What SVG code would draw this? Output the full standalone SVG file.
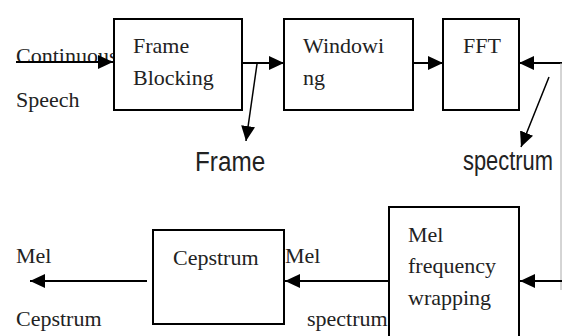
<svg xmlns="http://www.w3.org/2000/svg" width="562" height="336" viewBox="0 0 562 336">
<style>
.box{fill:#fff;stroke:#000;stroke-width:2}
.t{font-family:"Liberation Sans","Liberation Serif","Times New Roman",serif;font-size:22px;fill:#222}
.t{font-family:"Liberation Serif","Times New Roman",serif}
.s{font-family:"Liberation Sans",Arial,sans-serif;font-size:27px;fill:#222}
.ln{stroke:#000;stroke-width:2;fill:none}
.thin{stroke:#000;stroke-width:1.5;fill:none}
</style>
<defs>
<marker id="ah" markerUnits="userSpaceOnUse" markerWidth="16" markerHeight="14" refX="15" refY="7" orient="auto">
<path d="M0,0 L15,7 L0,14 Z" fill="#000"/>
</marker>
</defs>
<rect width="562" height="336" fill="#fff"/>
<g id="labels">
<text class="t" x="16" y="63">Continuous</text>
<text class="t" x="16" y="107">Speech</text>
<text class="s" transform="translate(195,171) scale(0.9,1)">Frame</text>
<text class="s" transform="translate(463,170) scale(0.81,1)">spectrum</text>
<text class="t" x="16" y="263">Mel</text>
<text class="t" x="16" y="326">Cepstrum</text>
<text class="t" x="285" y="263">Mel</text>
<text class="t" x="307" y="326">spectrum</text>
</g>
<g id="connectors">
<line class="ln" x1="16" y1="62" x2="113" y2="62" marker-end="url(#ah)"/>
<line class="ln" x1="242" y1="63" x2="284" y2="63" marker-end="url(#ah)"/>
<line class="thin" x1="257" y1="64" x2="246" y2="141" marker-end="url(#ah)"/>
<line class="ln" x1="413" y1="63" x2="443" y2="63" marker-end="url(#ah)"/>
<line class="ln" x1="562" y1="63" x2="519" y2="63" marker-end="url(#ah)"/>
<line class="thin" x1="549" y1="77" x2="521" y2="147" marker-end="url(#ah)"/>
<line x1="561" y1="63" x2="561" y2="290" stroke="#aaa" stroke-width="1"/>
<line class="ln" x1="562" y1="281" x2="520" y2="281" marker-end="url(#ah)"/>
<line class="ln" x1="389" y1="281" x2="285" y2="281" marker-end="url(#ah)"/>
<line class="ln" x1="147" y1="281" x2="30" y2="281" marker-end="url(#ah)"/>
</g>
<g id="frame-blocking">
<rect class="box" x="114" y="19" width="128" height="91"/>
<text class="t" x="133" y="53">Frame</text>
<text class="t" x="133" y="85">Blocking</text>
</g>
<g id="windowing">
<rect class="box" x="284" y="19" width="129" height="91"/>
<text class="t" x="303" y="53">Windowi</text>
<text class="t" x="303" y="85">ng</text>
</g>
<g id="fft">
<rect class="box" x="443" y="19" width="76" height="91"/>
<text class="t" x="463" y="53">FFT</text>
</g>
<g id="mel-frequency-wrapping">
<rect class="box" x="389" y="207" width="130" height="140"/>
<text class="t" x="408" y="242">Mel</text>
<text class="t" x="408" y="273">frequency</text>
<text class="t" x="408" y="305">wrapping</text>
</g>
<g id="cepstrum">
<rect class="box" x="153" y="230" width="131" height="94"/>
<text class="t" x="173" y="265">Cepstrum</text>
</g>
</svg>
